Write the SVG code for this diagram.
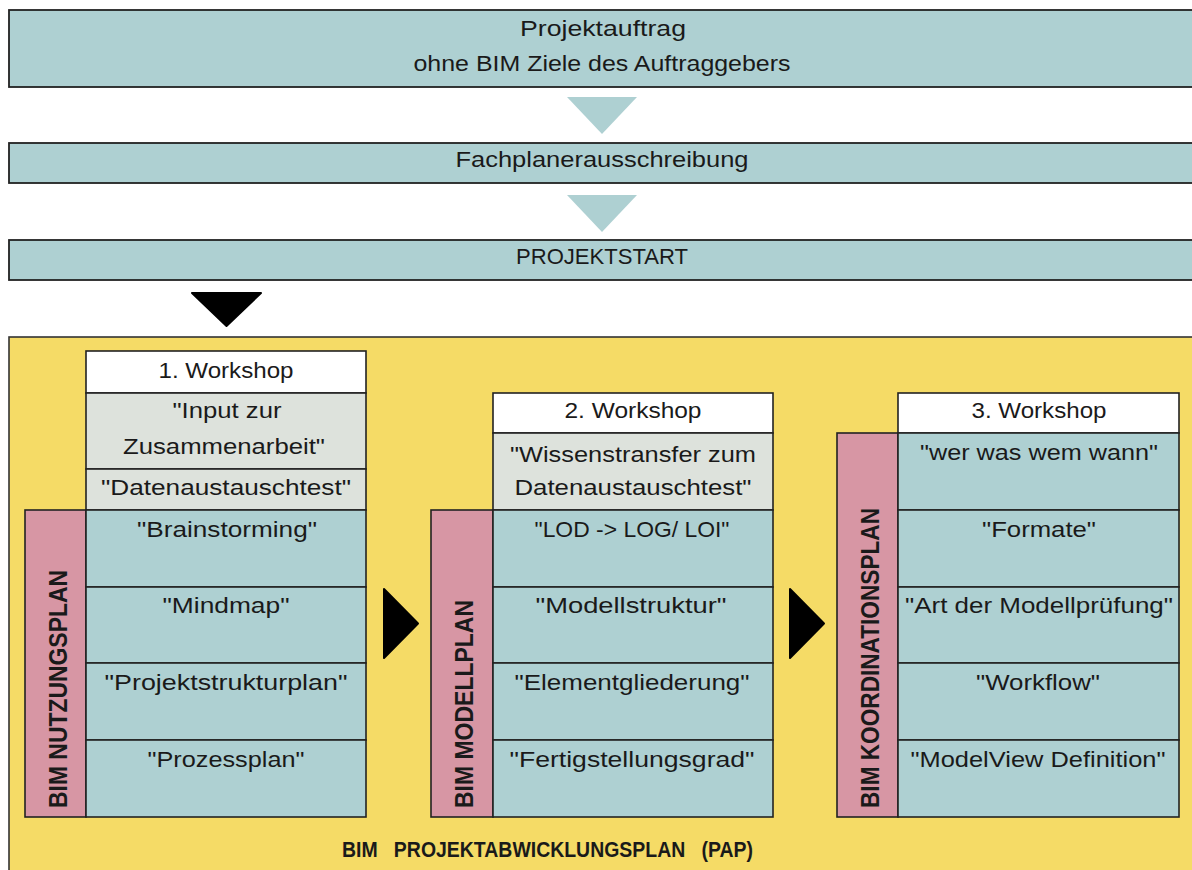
<svg xmlns="http://www.w3.org/2000/svg" width="1192" height="870" viewBox="0 0 1192 870">
  <style>
    .bar { fill: #aed0d2; stroke: #222; stroke-width: 1.8; }
    .hd { fill: #ffffff; stroke: #222; stroke-width: 1.6; }
    .gr { fill: #dde2dc; stroke: #222; stroke-width: 1.6; }
    .tl { fill: #aed0d2; stroke: #222; stroke-width: 1.6; }
    .pk { fill: #d796a4; stroke: #222; stroke-width: 1.6; }
    .pap { fill: #f5db66; stroke: #333; stroke-width: 1.6; }
    .t { font-family: "Liberation Sans", Arial, sans-serif; font-size: 22px; fill: #1a1a1a; text-anchor: middle; }
    .v { font-family: "Liberation Sans", Arial, sans-serif; font-size: 26px; font-weight: bold; fill: #1a1a1a; text-anchor: start; }
    .b { font-family: "Liberation Sans", Arial, sans-serif; font-size: 22px; font-weight: bold; fill: #1a1a1a; text-anchor: start; white-space: pre; }
    .flow { fill: #aed0d2; }
    .step { fill: #000; stroke: #000; stroke-width: 2; stroke-linejoin: round; }
  </style>

  <!-- project phases before the start -->
  <g id="projektauftrag">
    <rect class="bar" x="9" y="10" width="1200" height="77"/>
    <text class="t" x="603" y="36" textLength="166" lengthAdjust="spacingAndGlyphs">Projektauftrag</text>
    <text class="t" x="602" y="71" textLength="377" lengthAdjust="spacingAndGlyphs">ohne BIM Ziele des Auftraggebers</text>
  </g>
  <g id="fachplanerausschreibung">
    <rect class="bar" x="9" y="143" width="1200" height="40"/>
    <text class="t" x="602" y="167" textLength="293" lengthAdjust="spacingAndGlyphs">Fachplanerausschreibung</text>
  </g>
  <g id="projektstart">
    <rect class="bar" x="9" y="240" width="1200" height="40"/>
    <text class="t" x="602" y="264" textLength="172" lengthAdjust="spacingAndGlyphs">PROJEKTSTART</text>
  </g>

  <!-- BIM execution plan frame -->
  <g id="pap">
    <rect class="pap" x="9" y="337" width="1200" height="560"/>
    <text class="b" x="342" y="857" xml:space="preserve" textLength="411" lengthAdjust="spacingAndGlyphs">BIM   PROJEKTABWICKLUNGSPLAN   (PAP)</text>
  </g>

  <!-- flow arrows -->
  <g id="connectors">
    <polygon class="flow" points="567,97 637,97 602,134"/>
    <polygon class="flow" points="567,195 637,195 602,232"/>
    <polygon class="step" points="192,293 261,293 226.5,326"/>
    <polygon class="step" points="384,589 418,623.5 384,658"/>
    <polygon class="step" points="790,589 824,623.5 790,658"/>
  </g>

  <!-- workshop 1: BIM Nutzungsplan -->
  <g id="workshop1">
    <rect class="hd" x="86" y="351" width="280" height="42"/>
    <text class="t" x="226" y="378" textLength="135" lengthAdjust="spacingAndGlyphs">1. Workshop</text>
    <rect class="gr" x="86" y="393" width="280" height="76"/>
    <text class="t" x="227" y="418" textLength="109" lengthAdjust="spacingAndGlyphs">"Input zur</text>
    <text class="t" x="224" y="454" textLength="202" lengthAdjust="spacingAndGlyphs">Zusammenarbeit"</text>
    <rect class="gr" x="86" y="469" width="280" height="41"/>
    <text class="t" x="226" y="495" textLength="250" lengthAdjust="spacingAndGlyphs">"Datenaustauschtest"</text>
    <rect class="pk" x="25" y="510" width="61" height="307"/>
    <text class="v" transform="translate(67,808) rotate(-90)" textLength="238" lengthAdjust="spacingAndGlyphs">BIM NUTZUNGSPLAN</text>
    <rect class="tl" x="86" y="510" width="280" height="77"/>
    <text class="t" x="227" y="537" textLength="180" lengthAdjust="spacingAndGlyphs">"Brainstorming"</text>
    <rect class="tl" x="86" y="587" width="280" height="76"/>
    <text class="t" x="226" y="613" textLength="127" lengthAdjust="spacingAndGlyphs">"Mindmap"</text>
    <rect class="tl" x="86" y="663" width="280" height="77"/>
    <text class="t" x="226" y="690" textLength="243" lengthAdjust="spacingAndGlyphs">"Projektstrukturplan"</text>
    <rect class="tl" x="86" y="740" width="280" height="77"/>
    <text class="t" x="226" y="767" textLength="157" lengthAdjust="spacingAndGlyphs">"Prozessplan"</text>
  </g>

  <!-- workshop 2: BIM Modellplan -->
  <g id="workshop2">
    <rect class="hd" x="493" y="393" width="280" height="40"/>
    <text class="t" x="633" y="418" textLength="137" lengthAdjust="spacingAndGlyphs">2. Workshop</text>
    <rect class="gr" x="493" y="433" width="280" height="77"/>
    <text class="t" x="633" y="462" textLength="246" lengthAdjust="spacingAndGlyphs">"Wissenstransfer zum</text>
    <text class="t" x="633" y="495" textLength="237" lengthAdjust="spacingAndGlyphs">Datenaustauschtest"</text>
    <rect class="pk" x="431" y="510" width="62" height="307"/>
    <text class="v" transform="translate(473,808) rotate(-90)" textLength="208" lengthAdjust="spacingAndGlyphs">BIM MODELLPLAN</text>
    <rect class="tl" x="493" y="510" width="280" height="77"/>
    <text class="t" x="632" y="537" textLength="195" lengthAdjust="spacingAndGlyphs">"LOD -&gt; LOG/ LOI"</text>
    <rect class="tl" x="493" y="587" width="280" height="76"/>
    <text class="t" x="631" y="613" textLength="191" lengthAdjust="spacingAndGlyphs">"Modellstruktur"</text>
    <rect class="tl" x="493" y="663" width="280" height="77"/>
    <text class="t" x="632" y="690" textLength="235" lengthAdjust="spacingAndGlyphs">"Elementgliederung"</text>
    <rect class="tl" x="493" y="740" width="280" height="77"/>
    <text class="t" x="632" y="767" textLength="245" lengthAdjust="spacingAndGlyphs">"Fertigstellungsgrad"</text>
  </g>

  <!-- workshop 3: BIM Koordinationsplan -->
  <g id="workshop3">
    <rect class="hd" x="898" y="393" width="281" height="40"/>
    <text class="t" x="1039" y="418" textLength="135" lengthAdjust="spacingAndGlyphs">3. Workshop</text>
    <rect class="pk" x="837" y="433" width="61" height="384"/>
    <text class="v" transform="translate(879,808) rotate(-90)" textLength="300" lengthAdjust="spacingAndGlyphs">BIM KOORDINATIONSPLAN</text>
    <rect class="tl" x="898" y="433" width="281" height="77"/>
    <text class="t" x="1039" y="460" textLength="238" lengthAdjust="spacingAndGlyphs">"wer was wem wann"</text>
    <rect class="tl" x="898" y="510" width="281" height="77"/>
    <text class="t" x="1039" y="537" textLength="114" lengthAdjust="spacingAndGlyphs">"Formate"</text>
    <rect class="tl" x="898" y="587" width="281" height="76"/>
    <text class="t" x="1039" y="613" textLength="268" lengthAdjust="spacingAndGlyphs">"Art der Modellprüfung"</text>
    <rect class="tl" x="898" y="663" width="281" height="77"/>
    <text class="t" x="1038" y="690" textLength="124" lengthAdjust="spacingAndGlyphs">"Workflow"</text>
    <rect class="tl" x="898" y="740" width="281" height="77"/>
    <text class="t" x="1038" y="767" textLength="255" lengthAdjust="spacingAndGlyphs">"ModelView Definition"</text>
  </g>
</svg>
